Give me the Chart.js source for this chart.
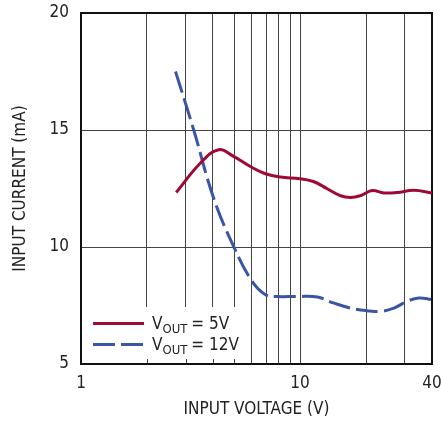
<!DOCTYPE html>
<html>
<head>
<meta charset="utf-8">
<script src="https://cdn.jsdelivr.net/npm/chart.js@4.4.1/dist/chart.umd.min.js"></script>
<style>
  html, body { margin: 0; padding: 0; background: #fff; }
  #wrap { width: 441px; height: 425px; }
</style>
</head>
<body>
<div id="wrap"><canvas id="chart" width="441" height="425"></canvas></div>
<script>
  // ── data ──
  const vin5 = [2.72, 3.51, 4.25, 4.97, 5.93, 6.95, 8.13, 10.0, 11.5, 13.3, 15.3, 17.0, 18.8, 21.3, 24.1, 27.7, 33.0, 40];
  const iin5 = [12.33, 13.59, 14.16, 13.87, 13.44, 13.13, 12.99, 12.92, 12.80, 12.49, 12.19, 12.12, 12.19, 12.41, 12.31, 12.33, 12.42, 12.31];

  const vin12 = [2.70, 3.27, 4.03, 4.97, 6.04, 6.95, 7.86, 10.0, 12.0, 14.2, 17.0, 20.2, 23.3, 26.8, 30.8, 34.8, 40];
  const iin12 = [17.5, 15.0, 12.09, 10.03, 8.53, 7.96, 7.88, 7.89, 7.86, 7.61, 7.39, 7.28, 7.25, 7.39, 7.68, 7.82, 7.75];

  const xGrid = [1, 2, 3, 4, 5, 6, 7, 8, 9, 10, 20, 30, 40];
  const xLabels = [1, 10, 40];
  const yTicks = [5, 10, 15, 20];

  const seriesNames = ["= 5V", "= 12V"];

  const FONT = "'Liberation Sans Narrow', 'DejaVu Sans Condensed', 'Arial Narrow', sans-serif";
  const RED = "#9e0a35";
  const BLUE = "#3a55a4";
  const GRID = "#444";

  function pts(xs, ys) {
    return xs.map(function (x, i) { return { x: x, y: ys[i] }; });
  }

  // frame + legend box (white box hides grid under it)
  const decor = {
    id: "decor",
    beforeDatasetsDraw: function (chart) {
      const ctx = chart.ctx;
      const a = chart.chartArea;
      const xs = chart.scales.x;
      ctx.save();
      // legend background
      const bx = a.left + 1, by = 307, bw = 169, bh = a.bottom - 1 - by;
      ctx.fillStyle = "#fff";
      ctx.fillRect(bx, by, bw, bh);
      // short inner ticks along the bottom under the legend
      ctx.strokeStyle = GRID;
      ctx.lineWidth = 1;
      [2, 3, 4, 5].forEach(function (v) {
        const px = Math.round(xs.getPixelForValue(v)) + 0.5;
        ctx.beginPath();
        ctx.moveTo(px, a.bottom);
        ctx.lineTo(px, a.bottom - 5);
        ctx.stroke();
      });
      // frame
      ctx.strokeStyle = "#111";
      ctx.lineWidth = 2;
      ctx.strokeRect(a.left, a.top, a.right - a.left, a.bottom - a.top);

      // legend entries
      const rows = [
        { y: 323.5, color: RED, dash: [], text: seriesNames[0] },
        { y: 344.5, color: BLUE, dash: [22, 6], text: seriesNames[1] }
      ];
      rows.forEach(function (r) {
        ctx.strokeStyle = r.color;
        ctx.lineWidth = 3;
        ctx.setLineDash(r.dash);
        ctx.beginPath();
        ctx.moveTo(93, r.y);
        ctx.lineTo(144, r.y);
        ctx.stroke();
        ctx.setLineDash([]);

        ctx.fillStyle = "#222";
        ctx.textBaseline = "alphabetic";
        ctx.textAlign = "left";
        let x = 152;
        const base = r.y + 5.5;
        ctx.font = "17px " + FONT;
        ctx.fillText("V", x, base);
        x += ctx.measureText("V").width;
        ctx.font = "13px " + FONT;
        ctx.fillText("OUT", x, base + 4);
        x += ctx.measureText("OUT").width + 4;
        ctx.font = "17px " + FONT;
        ctx.fillText(r.text, x, base);
      });
      ctx.restore();
    }
  };

  new Chart(document.getElementById("chart"), {
    type: "line",
    data: {
      datasets: [
        {
          label: "VOUT = 5V",
          data: pts(vin5, iin5),
          borderColor: RED,
          borderWidth: 3,
          pointRadius: 0,
          tension: 0.4,
          fill: false
        },
        {
          label: "VOUT = 12V",
          data: pts(vin12, iin12),
          borderColor: BLUE,
          borderWidth: 3,
          borderDash: [22, 6],
          pointRadius: 0,
          tension: 0.4,
          fill: false
        }
      ]
    },
    options: {
      responsive: false,
      animation: false,
      events: [],
      layout: { padding: { left: 0, right: 9, top: 13, bottom: 0 } },
      plugins: {
        legend: { display: false },
        tooltip: { enabled: false }
      },
      scales: {
        x: {
          type: "logarithmic",
          min: 1,
          max: 40,
          afterBuildTicks: function (s) {
            s.ticks = xGrid.map(function (v) { return { value: v }; });
          },
          afterFit: function (s) {
            s.height = 61;
            s.paddingLeft = 0;
            s.paddingRight = 0;
          },
          grid: { color: GRID, lineWidth: 1, drawTicks: false },
          border: { display: false },
          ticks: {
            autoSkip: false,
            maxRotation: 0,
            padding: 9,
            color: "#222",
            font: { family: FONT, size: 17 },
            callback: function (v) {
              return xLabels.indexOf(v) >= 0 ? String(v) : "";
            }
          },
          title: {
            display: true,
            text: "INPUT VOLTAGE (V)",
            color: "#222",
            font: { family: FONT, size: 17 },
            padding: { top: 0, bottom: 5 }
          }
        },
        y: {
          type: "linear",
          min: 5,
          max: 20,
          afterBuildTicks: function (s) {
            s.ticks = yTicks.map(function (v) { return { value: v }; });
          },
          afterFit: function (s) {
            s.width = 81;
            s.paddingTop = 0;
            s.paddingBottom = 0;
          },
          grid: { color: GRID, lineWidth: 1, drawTicks: false },
          border: { display: false },
          ticks: {
            padding: 12,
            color: "#222",
            font: { family: FONT, size: 17 }
          },
          title: {
            display: true,
            text: "INPUT CURRENT (mA)",
            color: "#222",
            font: { family: FONT, size: 17 },
            padding: { top: 10, bottom: 0 }
          }
        }
      }
    },
    plugins: [decor]
  });
</script>
</body>
</html>
